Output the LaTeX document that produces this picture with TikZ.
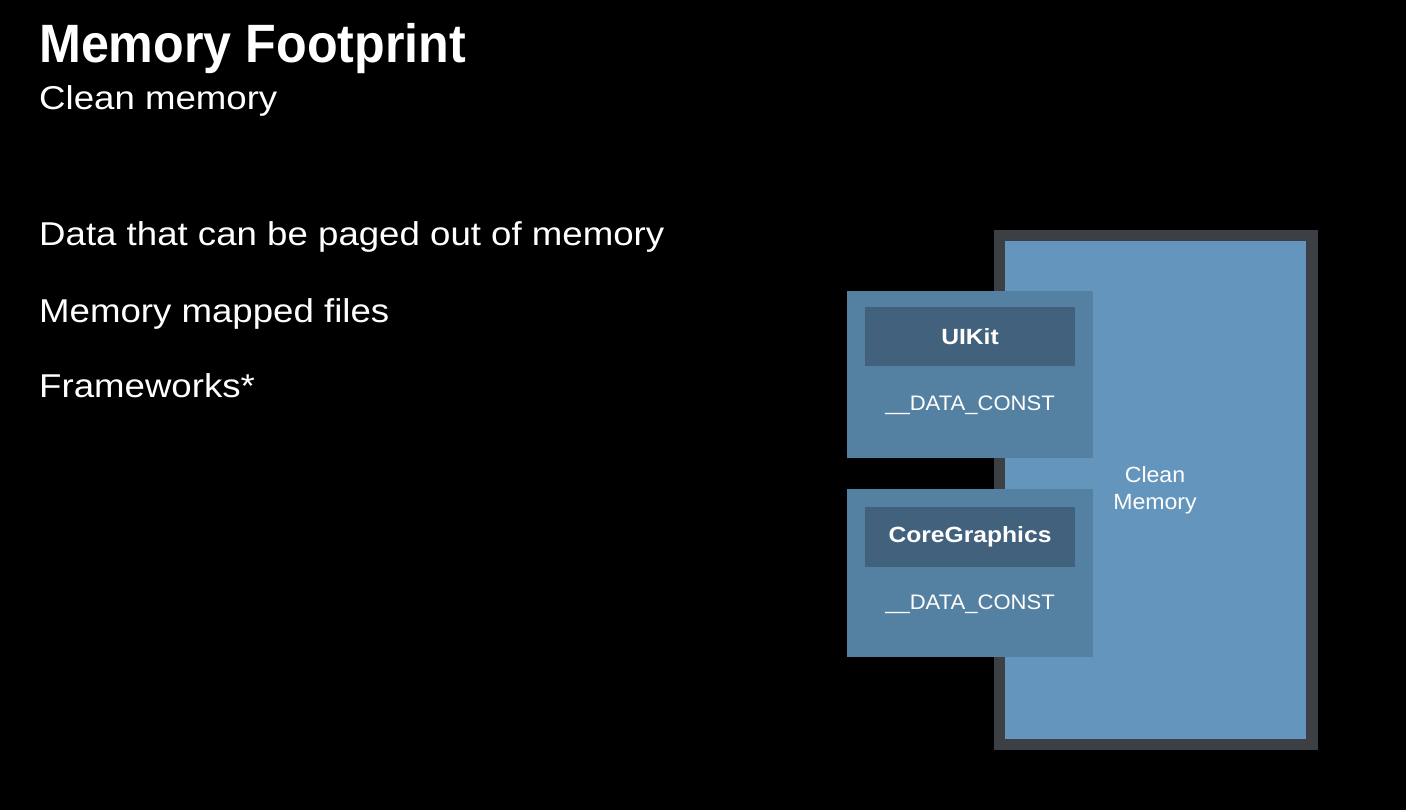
\documentclass[tikz,border=0pt]{standalone}
\usepackage{fontspec}
\setmainfont{Liberation Sans}
\newfontfamily\bodyfont[FakeStretch=1.11]{Liberation Sans}
\newfontfamily\titlefont[FakeStretch=0.93]{Liberation Sans}
\newfontfamily\hdrfont[FakeStretch=1.12]{Liberation Sans}
\newfontfamily\labfont[FakeStretch=1.05]{Liberation Sans}
\definecolor{bordergray}{HTML}{3C4045}
\definecolor{cleanblue}{HTML}{6495BC}
\definecolor{fwblue}{HTML}{5480A2}
\definecolor{hdrblue}{HTML}{41617D}
\tikzset{
  px/.style={x=1pt,y=-1pt},
  bodytext/.style={text=white, anchor=base west, inner sep=0pt, font=\bodyfont\fontsize{33}{40}\selectfont},
  fwbox/.style={fill=fwblue, draw=none},
  hdrbox/.style={fill=hdrblue, draw=none},
  hdrtext/.style={text=white, font=\hdrfont\bfseries\fontsize{22}{26}\selectfont, inner sep=0pt},
  sectext/.style={text=white, font=\labfont\fontsize{21}{27}\selectfont, inner sep=0pt},
}
\begin{document}
\begin{tikzpicture}[px]
\fill[black] (0,0) rectangle (1406,810);
\useasboundingbox (0,0) rectangle (1406,810);
% titles
\node[bodytext, font=\titlefont\bfseries\fontsize{54}{60}\selectfont] (title) at (39,63) {Memory Footprint};
\node[bodytext] (sub) at (39,110) {Clean memory};
\node[bodytext] (b1) at (39,246) {Data that can be paged out of memory};
\node[bodytext] (b2) at (39,323) {Memory mapped files};
\node[bodytext] (b3) at (39,397) {Frameworks*};
% clean memory box
\fill[bordergray] (994,230) rectangle (1318,750);
\fill[cleanblue] (1005,241) rectangle (1306,739);
\node[sectext, align=center, font=\labfont\fontsize{22}{27}\selectfont] (clean) at (1155,490) {Clean\\Memory};
% UIKit
\fill[fwbox] (847,291) rectangle (1093,458);
\fill[hdrbox] (865,307) rectangle (1075,366);
\node[hdrtext] (uikit) at (970,336.5) {UIKit};
\node[sectext] (dc1) at (970,405) {\_\_DATA\_CONST};
% CoreGraphics
\fill[fwbox] (847,489) rectangle (1093,657);
\fill[hdrbox] (865,507) rectangle (1075,567);
\node[hdrtext] (cg) at (970,537) {CoreGraphics};
\node[sectext] (dc2) at (970,604) {\_\_DATA\_CONST};
\end{tikzpicture}
\end{document}
